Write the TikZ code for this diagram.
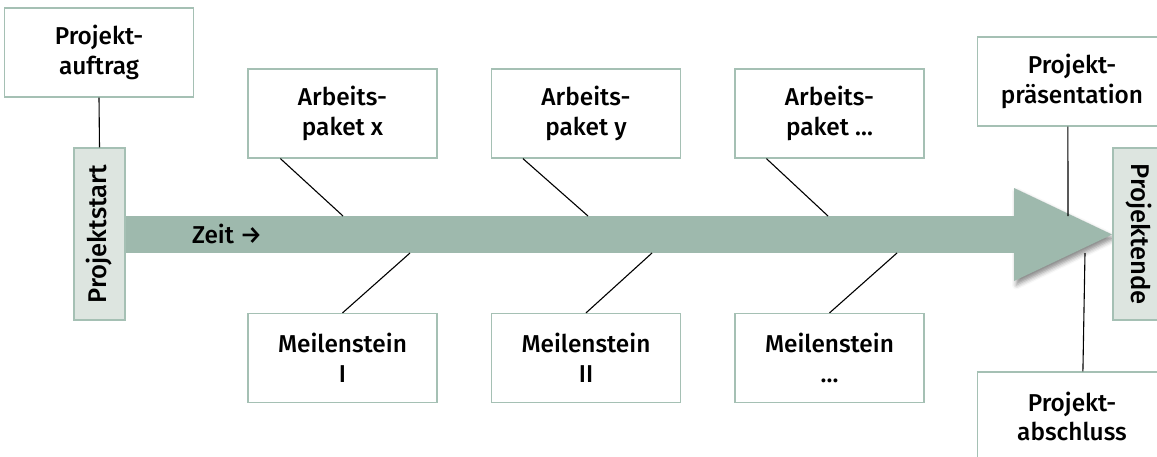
\documentclass[tikz,border=0pt]{standalone}
\usepackage{fontspec}
\newfontfamily\labelfont{Fira Sans Medium}
\usetikzlibrary{calc,shadows.blur}

\definecolor{sage}{RGB}{158,185,173}
\definecolor{sageline}{RGB}{165,192,180}
\definecolor{sagelight}{RGB}{221,229,224}

\tikzset{
  lbl/.style={font=\labelfont\fontsize{12.2}{14.8}\selectfont, text=black, align=center, inner sep=0pt},
  sidelbl/.style={lbl, font=\labelfont\fontsize{12.8}{14.8}\selectfont},
  box/.style={draw=sageline, fill=white, line width=0.6pt, minimum width=94.5pt, minimum height=44.5pt, lbl},
  endbox/.style={draw=sageline, fill=sagelight, line width=0.6pt, minimum width=25.5pt, minimum height=86pt, inner sep=0pt},
  conn/.style={draw=black, line width=0.55pt},
  timebar/.style={fill=sage, draw=none},
}

\begin{document}
\begin{tikzpicture}[x=0.5pt,y=-0.5pt]
  \useasboundingbox (0,0) rectangle (1157,456);
  \clip (0,0) rectangle (1157,456);

  % time arrow: head with a soft shadow, then the shaft
  \fill[sage, blur shadow={shadow xshift=1.2pt, shadow yshift=-2pt, shadow blur radius=2.2pt, shadow opacity=45}]
    (1014,188) -- (1112,234.5) -- (1014,281) -- cycle;
  \fill[timebar] (120,216) rectangle (1016,253);
  \node[lbl] (zeit) at (227,234) {Zeit →};

  % start and end of the project
  \node[box] (auftrag) at (99,52.5) {Projekt-\\auftrag};
  \node[endbox] (start) at (99.5,234) {};
  \node[sidelbl, rotate=90] (starttxt) at (start.center) {Projektstart};

  \node[box] (praes) at (1072,81.5) {Projekt-\\präsentation};
  \node[box] (abschl) at (1072,416.5) {Projekt-\\abschluss};
  \node[endbox] (ende) at (1138.5,234) {};
  \node[sidelbl, rotate=-90] (endetxt) at (ende.center) {Projektende};

  % work packages above the bar
  \node[box] (ap1) at (342.5,113.5) {Arbeits-\\paket x};
  \node[box] (ap2) at (586,113.5) {Arbeits-\\paket y};
  \node[box] (ap3) at (829.5,113.5) {Arbeits-\\paket …};

  % milestones below the bar
  \node[box] (ms1) at (342.5,358) {Meilenstein\\I};
  \node[box] (ms2) at (586,358) {Meilenstein\\II};
  \node[box] (ms3) at (829.5,358) {Meilenstein\\…};

  % points where the branches meet the bar
  \coordinate (ap1bar) at (343,216);
  \coordinate (ap2bar) at (588,216);
  \coordinate (ap3bar) at (828,216);
  \coordinate (ms1bar) at (410,253);
  \coordinate (ms2bar) at (652,253);
  \coordinate (ms3bar) at (897,253);
  \coordinate (praesbar) at (1068,216);
  \coordinate (abschlbar) at (1085,253);

  % branches
  \draw[conn] (auftrag.south) -- (start.north);
  \draw[conn] ($(ap1.south west)+(33,0)$) -- (ap1bar);
  \draw[conn] ($(ap2.south west)+(32,0)$) -- (ap2bar);
  \draw[conn] ($(ap3.south west)+(32,0)$) -- (ap3bar);
  \draw[conn] (ms1.north) -- (ms1bar);
  \draw[conn] (ms2.north) -- (ms2bar);
  \draw[conn] (ms3.north) -- (ms3bar);
  \draw[conn] ($(praes.south west)+(91,0)$) -- (praesbar);
  \draw[conn] ($(abschl.north west)+(106,0)$) -- (abschlbar);
\end{tikzpicture}
\end{document}
